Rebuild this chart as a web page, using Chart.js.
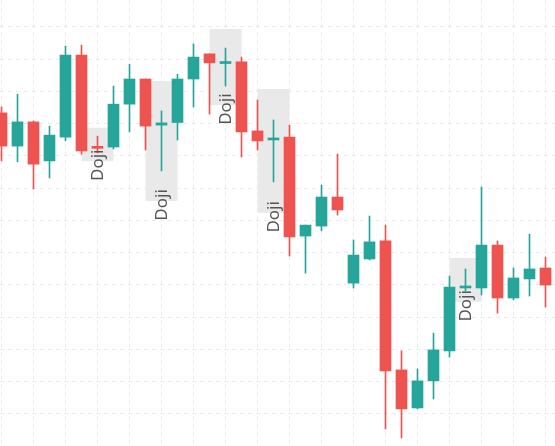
<!DOCTYPE html>
<html>
<head>
<meta charset="utf-8">
<script src="https://cdn.jsdelivr.net/npm/chart.js@4/dist/chart.umd.min.js"></script>
<style>
  html, body { margin: 0; padding: 0; background: #fff; }
  #wrap { width: 555px; height: 446px; position: relative; }
</style>
</head>
<body>
<div id="wrap"><canvas id="chart"></canvas></div>
<script>
// ── Data (one entry per session) ─────────────────────────
const opens  = [103.3, 93.0, 100.5, 88.4, 95.8, 121.2, 92.9, 92.7, 106.0, 113.8, 99.5, 100.3, 113.8, 121.6, 118.6, 119.1, 97.7, 94.9, 95.8, 65.1, 68.2, 77.2, 50.5, 58.0, 63.6, 23.6, 11.8, 20.2, 29.5, 49.0, 49.0, 62.3, 45.9, 51.8, 55.2];
const highs  = [105.1, 109.1, 100.8, 99.2, 124.0, 124.3, 96.1, 111.6, 118.4, 113.8, 103.9, 115.3, 124.7, 121.6, 123.4, 120.6, 107.3, 101.1, 99.5, 68.5, 80.9, 90.5, 63.9, 71.3, 68.5, 29.5, 23.9, 35.0, 52.7, 54.9, 80.3, 63.6, 55.2, 65.7, 58.6];
const lows   = [88.4, 88.1, 79.7, 83.1, 94.6, 90.5, 90.9, 92.1, 97.4, 91.8, 85.3, 94.9, 105.1, 102.9, 111.6, 89.6, 91.8, 81.9, 58.9, 53.6, 66.7, 71.6, 49.0, 57.7, 5.3, 2.5, 11.5, 14.6, 27.6, 48.1, 46.8, 41.2, 45.3, 46.5, 43.1];
const closes = [93.0, 100.5, 87.4, 96.4, 121.2, 91.5, 92.3, 106.0, 113.8, 99.2, 100.2, 113.8, 120.6, 118.8, 119.2, 97.4, 94.6, 95.5, 64.8, 68.5, 77.2, 73.2, 59.2, 63.3, 23.3, 11.5, 20.2, 29.8, 49.3, 49.6, 62.3, 45.9, 52.1, 54.9, 49.9];
const dojiIdx = [6, 10, 14, 17, 29];
const dojiLabel = 'Doji';
const gridValues = [10, 20, 30, 40, 50, 60, 70, 80, 90, 100, 110, 120, 130];

const UP = '#26a69a';
const DOWN = '#ef5350';

const idx = opens.map((_, i) => i);
const colors = idx.map(i => closes[i] >= opens[i] ? UP : DOWN);

// ── Doji highlight: grey box behind, rotated label on top ──
const dojiPlugin = {
  id: 'doji',
  beforeDatasetsDraw(chart) {
    const { ctx, scales: { x, y } } = chart;
    ctx.save();
    ctx.fillStyle = '#e9e9e9';
    for (const i of dojiIdx) {
      const pad = (highs[i] - lows[i]) / 2;
      const x0 = x.getPixelForValue(i - 1), x1 = x.getPixelForValue(i + 1);
      const y0 = y.getPixelForValue(highs[i] + pad), y1 = y.getPixelForValue(lows[i] - pad);
      ctx.fillRect(x0, y0, x1 - x0, y1 - y0);
    }
    ctx.restore();
  },
  afterDatasetsDraw(chart) {
    const { ctx, scales: { x, y } } = chart;
    ctx.save();
    ctx.fillStyle = '#555';
    ctx.font = '17px "Noto Sans", sans-serif';
    ctx.textAlign = 'center';
    ctx.textBaseline = 'middle';
    for (const i of dojiIdx) {
      const pad = (highs[i] - lows[i]) / 2;
      const bottom = y.getPixelForValue(lows[i] - pad);
      ctx.save();
      ctx.translate(x.getPixelForValue(i), bottom + 4);
      ctx.rotate(-Math.PI / 2);
      ctx.fillText(dojiLabel, 0, 1);
      ctx.restore();
    }
    ctx.restore();
  },
};

new Chart(document.getElementById('chart'), {
  type: 'bar',
  data: {
    datasets: [
      {
        label: 'body',
        data: idx.map(i => ({ x: i, y: [opens[i], closes[i]] })),
        backgroundColor: colors,
        barThickness: 11,
        minBarLength: 2,
        grouped: false,
      },
      {
        label: 'wick',
        data: idx.map(i => ({ x: i, y: [lows[i], highs[i]] })),
        backgroundColor: colors,
        barThickness: 1,
        grouped: false,
      },
    ],
  },
  options: {
    responsive: true,
    maintainAspectRatio: false,
    animation: false,
    layout: { padding: 0 },
    plugins: { legend: { display: false }, tooltip: { enabled: false } },
    scales: {
      x: {
        type: 'linear',
        offset: false,
        min: -1.5 / 16,
        max: -1.5 / 16 + 555 / 16,
        afterBuildTicks: s => { s.ticks = idx.filter(i => i % 2 === 1).map(v => ({ value: v })); },
        ticks: { display: false },
        grid: { color: '#ebebeb', drawTicks: false },
        border: { display: false, dash: [4, 4] },
      },
      y: {
        min: 0,
        max: 138.3,
        afterBuildTicks: s => { s.ticks = gridValues.map(v => ({ value: v })); },
        ticks: { display: false },
        grid: { color: '#ebebeb', drawTicks: false },
        border: { display: false, dash: [4, 4] },
      },
    },
  },
  plugins: [dojiPlugin],
});
</script>
</body>
</html>
